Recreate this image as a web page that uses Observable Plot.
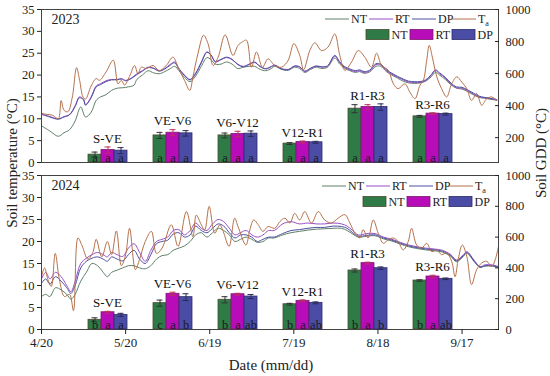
<!DOCTYPE html>
<html><head><meta charset="utf-8">
<script src="https://cdn.jsdelivr.net/npm/d3@7"></script>
<script src="https://cdn.jsdelivr.net/npm/@observablehq/plot@0.6"></script>
<style>
body{margin:0;background:#fff;}
#chart{position:relative;width:550px;height:376px;font-family:"Liberation Serif","Times New Roman",Times,"DejaVu Serif","Noto Serif",serif;color:#222;overflow:hidden;}
#chart svg, #chart svg text{font-family:"Liberation Serif","Times New Roman",Times,"DejaVu Serif","Noto Serif",serif !important;}
.ttl{position:absolute;white-space:nowrap;font-size:15px;}
</style></head><body><div id="chart"></div>
<script>
// ---- axis ticks / categories ----
const tickDays = [0, 30, 60, 90, 120, 150];
const tickLabels = ["4/20", "5/20", "6/19", "7/19", "8/18", "9/17"];
const tempTicks = [0, 5, 10, 15, 20, 25, 30, 35];
const gddTicksTop = [200, 400, 600, 800, 1000];
const gddTicksBottom = [0, 200, 400, 600, 800, 1000];
const stages = ["S-VE", "VE-V6", "V6-V12", "V12-R1", "R1-R3", "R3-R6"];
const treatments = ["NT", "RT", "DP"];

// ---- 2023 daily temperature (day offset from 4/20, °C) ----
const ta2023 = [[0,11.2],[2,11.0],[4,10.8],[6,10.0],[7,14.2],[8,12.0],[9.4,11.6],[11,15],[12.5,21.7],[13.6,18.8],[14.8,15],[15.7,14.5],[17.7,17.5],[19.5,19.2],[20.7,18.8],[23,20.7],[25.6,23.4],[27.3,18],[28.5,18.8],[29.6,17.7],[31.4,19.7],[33.2,22.2],[34.4,20.3],[35.6,21.8],[37.4,21.5],[39.8,22.2],[42,21],[44.5,22.2],[46.9,24.1],[48.7,21.8],[51,18.8],[52.9,16.5],[54,19.6],[55.8,24.9],[57.8,29.1],[59.4,27.2],[61.2,22.2],[63,24.1],[65.5,29.2],[68.3,24.5],[70.1,26.8],[71.7,27.6],[73.1,28],[74.9,21.8],[76.7,25.3],[78.8,21.8],[80.8,23.7],[83.2,22.2],[85.6,21.8],[88,23.4],[90,27.2],[92.1,24.5],[93.5,21.2],[95.7,25.6],[97.5,27.4],[99.9,25.6],[102.2,26.4],[104.6,29.4],[106.4,24.5],[108.2,21.1],[110.6,23],[113,25.6],[115.3,24.1],[117.7,21.8],[119.5,25],[121.3,22.2],[123.7,21.1],[125.5,18],[127.2,16.9],[129.6,18],[131.4,16.1],[133.2,14.6],[135,17.7],[136.2,18.8],[137.4,23.4],[138.3,26.8],[139.4,24.1],[141,19.6],[142.7,16.9],[144.5,15],[146.3,18],[148.1,19.6],[149.9,18.4],[151.7,16.9],[153.4,14.2],[155.2,15.8],[157,13.1],[158.8,14.6],[160.6,15],[162.4,14.2]];
const nt2023 = [[0,8.4],[3,7.2],[6,6.0],[8,6.8],[10,7.5],[12,9.5],[14,12.7],[15.7,10.4],[17.7,11.5],[19.5,14.2],[21,15],[23,15.5],[25,16.5],[27,17],[29,17.1],[31,17.3],[33,17.7],[34,19],[36,20],[38,21],[40,20.5],[42,20.3],[44,20.8],[46,21.5],[47.5,22],[49,21],[51,19.5],[53,18.5],[55,19.8],[57,22],[59,24],[60.5,23.5],[62,22.5],[64,22.5],[66,23],[68,22.5],[70,21.5],[72,21.8],[74,22],[76,22],[78,21.3],[80,21],[82,21.5],[83.2,22],[85.6,21.3],[88,21.1],[90.3,21.8],[92.1,21.5],[93.9,20.6],[96,21.3],[98,21.8],[100,21.5],[102,21.8],[104.6,23.9],[106.4,22.5],[108.2,21.5],[110,21],[112,20.6],[113.5,20.8],[115,20.4],[117,20.7],[119.3,22],[121,22],[123,20.8],[125,20],[127,19.3],[129,18.6],[131,18.2],[133,18.1],[135,18.2],[137,18.6],[139,19.6],[140.5,20.6],[142,20],[144,19],[146,17.8],[148,17],[150,16.8],[152,16.2],[154,15.5],[156,14.9],[158,14.7],[160,14.5],[162.4,14.2]];
const rt2023 = [[0,11.2],[3,10.5],[6,10],[8,10.5],[10,11],[12,13],[13.5,15],[15,14.5],[15.7,13.2],[17.7,15],[19.5,17.5],[21,18],[23,18.7],[25,19],[27,19],[28.5,19.2],[30,18.8],[32,19.3],[34,20.3],[36,21],[38,21.8],[40,21.6],[42,21],[44,21.5],[46,22.5],[47.5,23],[49,21.5],[51,20],[53,19],[55,20.5],[57,23],[59,25.3],[60.5,24.5],[62,23],[64,23.5],[66,24],[68,23.5],[70,22.5],[72,22],[74,22.5],[76,23],[78,22],[80,21.5],[82,22],[83.2,22.3],[85.6,21.5],[88,21.3],[90.3,22],[92.1,21.8],[93.9,20.8],[96,21.5],[98,22],[100,21.8],[102,22],[104.6,24.3],[106.4,22.8],[108.2,21.7],[110,21.2],[112,20.8],[113.5,21],[115,20.6],[117,20.9],[119.3,22.4],[121,22.3],[123,21],[125,20.2],[127,19.5],[129,18.9],[131,18.4],[133,18.3],[135,18.3],[137,18.7],[139,19.9],[140.5,21],[142,20.3],[144,19.3],[146,18],[148,17.1],[150,17],[152,16.4],[154,15.7],[156,15],[158,14.8],[160,14.6],[162.4,14.3]];
const dp2023 = [[0,11],[3,10.4],[6,9.9],[8,10.4],[10,10.9],[12,12.8],[13.5,14.8],[15,14.3],[15.7,13.1],[17.7,14.8],[19.5,17.3],[21,17.8],[23,18.5],[25,18.9],[27,18.9],[28.5,19.1],[30,18.7],[32,19.2],[34,20.1],[36,20.9],[38,21.7],[40,21.5],[42,20.9],[44,21.4],[46,22.3],[47.5,22.8],[49,21.4],[51,19.9],[53,18.9],[55,20.3],[57,22.8],[59,25.2],[60.5,24.6],[62,23.1],[64,23.6],[66,24.1],[68,23.6],[70,22.4],[72,21.9],[74,22.4],[76,22.9],[78,21.9],[80,21.4],[82,21.9],[83.2,22.2],[85.6,21.4],[88,21.2],[90.3,22.1],[92.1,21.9],[93.9,20.9],[96,21.6],[98,22.1],[100,21.9],[102,22.1],[104.6,24.5],[106.4,23],[108.2,21.9],[110,21.4],[112,21],[113.5,21.2],[115,20.8],[117,21.1],[119.3,22.6],[121,22.5],[123,21.2],[125,20.4],[127,19.7],[129,19.1],[131,18.6],[133,18.5],[135,18.5],[137,18.9],[139,20.1],[140.5,21.2],[142,20.5],[144,19.5],[146,18.2],[148,17.3],[150,17.2],[152,16.6],[154,15.9],[156,15.2],[158,14.9],[160,14.7],[162.4,14.4]];

// ---- 2024 daily temperature ----
const ta2024 = [[0,12],[1.1,14],[2.3,11.3],[3.5,9.8],[4.9,17.3],[6.4,11.3],[8.2,7.5],[10,8],[11.4,4.3],[13,20.8],[14.5,19],[16.5,16],[18.3,17.5],[19.5,20.5],[21.5,16.5],[23.5,20],[25,17],[26.7,22.4],[28.5,14.5],[30,17],[31.4,23],[33.5,13.6],[35,16],[37,20],[39.2,22.3],[41,17.3],[43,18.5],[46.3,23.8],[48.7,18.9],[51.7,26.8],[54,21.1],[55.2,26],[57,23.8],[58.2,22.6],[59.8,28],[61.8,21.9],[63.6,23.8],[64.8,22.3],[66.9,18.9],[68.9,25.3],[70.1,23.4],[72.9,19.2],[74.3,22.6],[75.7,24.9],[77.3,23.8],[79,22.3],[80.8,23.4],[83.2,23],[85,24.5],[86.8,25.3],[88.6,24.2],[90.3,26.4],[92.1,24.9],[93.9,26.8],[96.3,24.2],[98.7,26.8],[101,24.9],[103.4,24.2],[105.8,25.3],[108.2,26.1],[110,24.2],[111.8,21.9],[113.6,20.8],[114.7,22.7],[116.5,20.8],[118.3,24.9],[120.1,21.9],[121.9,19.6],[123.7,20.4],[125.5,20.8],[127.2,20],[129,18.1],[130.8,20],[132,23],[133.8,19.2],[135.6,18.5],[137.4,19.6],[139.2,17.7],[141,18.1],[142.7,17],[144.5,17.4],[146.3,15.5],[147.5,12],[148.7,16.2],[150.1,19.2],[151.7,16.6],[153.4,10.2],[155.2,13.6],[157,15.1],[158.8,15.5],[160.6,14.3],[161.8,15.8],[163,18.9]];
const nt2024 = [[0,7.5],[1.5,8],[3,7.5],[5,9.5],[7,9],[9,8],[10.5,6.9],[12,8],[14,11],[16,13],[18,15],[20,14.5],[22,13],[23.5,12],[25,13],[27,13.5],[29,14],[31,14.5],[33,14.5],[35,14],[37,13.8],[39,14.5],[41,16],[43,16.8],[45,17],[47,18],[49,18.5],[51,19],[53,20],[55,21.5],[57,22],[59,21],[61,22],[63,23],[65,22.5],[67,21.5],[69,20],[71,20.5],[73,21],[75,20.5],[77,19.8],[79,20],[81,20.8],[83,20.8],[86,21.5],[89,22],[92,22.3],[95,22.6],[98,22.8],[101,22.9],[104,23],[107,23],[109,22.5],[111,21.7],[113,21],[116,21.2],[119,21.3],[122,20.6],[125,20.1],[128,19.4],[131,18.8],[134,18.4],[137,18.1],[140,17.9],[143,17.6],[146,16.6],[148,15.4],[150.5,16.6],[151.7,17.3],[154.6,15.2],[156.4,14.1],[158.2,14.4],[160.6,14.4],[163,14.1]];
const rt2024 = [[0,11.5],[1.5,13],[3,11.5],[5,13],[7,12],[9,10],[10.5,8.6],[12,11],[14,15],[16,16.2],[18,17],[20,17.5],[22,17],[23.5,16.5],[25,17.5],[27,17],[29,16.6],[31,18.5],[33,19.5],[35,17.5],[37,15.5],[39,18],[41,20],[43,20.5],[45,21],[47,22.5],[49,22.7],[51,21.5],[53,22.5],[55,24.2],[57,23],[59,22.5],[61,24],[63,25],[65,24.5],[67,23],[69,21.5],[71,22],[73,22.5],[75,21.5],[77,21],[79,21.5],[81,22.5],[83,22.5],[86,24],[89,24.5],[92,24],[95,24.2],[98,24],[101,24],[104,24.2],[107,24],[109,23.5],[111,22.5],[113,21.5],[116,21.8],[119,21.8],[122,21],[125,20.5],[128,19.8],[131,19.2],[134,18.8],[137,18.5],[140,18.3],[143,18],[146,17],[148,15.8],[150.5,17],[151.7,17.7],[154.6,15.5],[156.4,14.3],[158.2,14.7],[160.6,14.7],[163,14.3]];
const dp2024 = [[0,10.5],[1.5,11.5],[3,10.3],[5,12],[7,11],[9,9.5],[10.5,8.2],[12,10],[14,14],[16,15.5],[18,16.2],[20,16.5],[22,16],[23.5,15.5],[25,16.5],[27,16],[29,15.6],[31,17],[33,18],[35,16],[37,15],[39,17],[41,19.5],[43,20],[45,20.3],[47,21.7],[49,22],[51,21],[53,21.5],[55,23.5],[57,22.5],[59,22],[61,23],[63,24],[65,23.5],[67,22],[69,20.8],[71,21.5],[73,21.5],[75,21],[77,20],[79,20.5],[81,21],[83,21],[86,21.8],[89,22.5],[92,22.7],[95,23],[98,23.2],[101,23.2],[104,23.5],[107,23.4],[109,23],[111,22],[113,21.2],[116,21.4],[119,21.5],[122,20.8],[125,20.3],[128,19.6],[131,19],[134,18.6],[137,18.3],[140,18.1],[143,17.8],[146,16.8],[148,15.6],[150.5,16.8],[151.7,17.5],[154.6,15.3],[156.4,14.2],[158.2,14.5],[160.6,14.5],[163,14.2]];

// ---- soil GDD by stage (°C), error, significance letters ----
const gdd2023NT = [94, 214, 214, 163, 381, 333];
const gdd2023RT = [123, 231, 223, 173, 391, 350];
const gdd2023DP = [119, 227, 225, 171, 391, 347];
const err2023NT = [16, 19, 15, 6, 25, 6];
const err2023RT = [19, 19, 17, 6, 15, 5];
const err2023DP = [19, 17, 17, 6, 20, 6];
const let2023NT = ["a", "a", "a", "a", "a", "a"];
const let2023RT = ["a", "a", "a", "a", "a", "a"];
const let2023DP = ["a", "a", "a", "a", "a", "a"];

const gdd2024NT = [63, 171, 193, 164, 383, 318];
const gdd2024RT = [112, 232, 229, 186, 431, 344];
const gdd2024DP = [95, 210, 214, 173, 398, 329];
const err2024NT = [13, 20, 20, 6, 10, 5];
const err2024RT = [6, 10, 6, 6, 6, 8];
const err2024DP = [10, 22, 13, 6, 8, 5];
const let2024NT = ["b", "c", "b", "b", "b", "b"];
const let2024RT = ["a", "a", "a", "a", "a", "a"];
const let2024DP = ["a", "b", "ab", "ab", "b", "ab"];

// ---- styles ----
const lineColors = {NT: "#5f8068", RT: "#9a4ec6", DP: "#4c509e", Ta: "#b4714c"};
const barFill = {NT: "#2e7b47", RT: "#b80cb8", DP: "#4a4ca6"};
const barStroke = {NT: "#4a4a30", RT: "#7a1a6a", DP: "#2c2c66"};
const errColor = {NT: "#333333", RT: "#c0305a", DP: "#2a2a55"};
const FONT = '"Liberation Serif","Times New Roman",Times,"DejaVu Serif","Noto Serif",serif';
const W = 550, ML = 41, MR = 52, MT = 9;
const chart = document.getElementById("chart");

function place(svg, top) {
  svg.style.position = "absolute";
  svg.style.left = "0px";
  svg.style.top = top + "px";
  chart.appendChild(svg);
}

function panel(p) {
  const start = Date.UTC(p.year, 3, 20);
  const toDate = d => new Date(start + d * 864e5);
  const common = {
    width: W, height: p.height, marginLeft: ML, marginRight: MR, marginTop: MT, marginBottom: p.mb,
    style: {background: "transparent", fontFamily: FONT, fontSize: "12.5px", color: "#222", overflow: "visible"}
  };
  // lines + left axis
  const lineMarks = p.series.map(([k, arr]) =>
    Plot.line(arr, {x: d => toDate(d[0]), y: d => d[1], stroke: lineColors[k], strokeWidth: 1, curve: "catmull-rom"}));
  const marks = [
    ...lineMarks,
    Plot.frame({stroke: "#444"}),
    Plot.axisY({ticks: tempTicks, tickSize: 4, tickPadding: 3, label: null, fontSize: 12.5}),
    Plot.text([p.year], {text: d => String(d), frameAnchor: "top-left", dx: 10, dy: 5, fontSize: 14})
  ];
  if (p.showX) marks.push(Plot.axisX({
    ticks: tickDays.map(toDate),
    tickFormat: d => tickLabels[tickDays.indexOf(Math.round((d - start) / 864e5))],
    tickSize: 5, tickPadding: 3, label: null, fontSize: 13
  }));
  const lines = Plot.plot({...common,
    x: {type: "utc", domain: [toDate(0), toDate(163)], axis: p.showX ? undefined : null},
    y: {domain: [0, 35]},
    marks});
  place(lines, p.top);

  // bars
  const rows = [];
  for (const t of treatments) p.gdd[t].v.forEach((v, i) =>
    rows.push({stage: stages[i], trt: t, v, e: p.gdd[t].e[i], letter: p.gdd[t].l[i]}));
  const tops = stages.map(s => ({stage: s, top: d3.max(rows.filter(r => r.stage === s), r => r.v + r.e)}));
  const lo = p.gddDomain[0];
  const barMarks = [];
  for (const t of treatments) {
    const sub = rows.filter(r => r.trt === t);
    barMarks.push(Plot.barY(sub, {fx: "stage", x: "trt", y1: lo, y2: "v", fill: barFill[t], stroke: barStroke[t], strokeWidth: 0.8}));
  }
  for (const t of treatments) {
    const sub = rows.filter(r => r.trt === t);
    barMarks.push(Plot.ruleX(sub, {fx: "stage", x: "trt", y1: d => d.v - d.e, y2: d => d.v + d.e, stroke: errColor[t], strokeWidth: 1}));
    barMarks.push(Plot.tickY(sub, {fx: "stage", x: "trt", y: d => d.v + d.e, stroke: errColor[t], insetLeft: 3.5, insetRight: 3.5}));
    barMarks.push(Plot.tickY(sub, {fx: "stage", x: "trt", y: d => d.v - d.e, stroke: errColor[t], insetLeft: 3.5, insetRight: 3.5}));
  }
  barMarks.push(Plot.text(rows, {fx: "stage", x: "trt", text: "letter", frameAnchor: "bottom", dy: -1, fontSize: 12.5, fill: "#1a1a1a"}));
  barMarks.push(Plot.text(tops, {fx: "stage", y: "top", text: "stage", dy: -8.5, fontSize: 13, fill: "#111"}));
  const bars = Plot.plot({...common,
    fx: {domain: stages, paddingInner: 0.39, paddingOuter: 0.69, axis: null, label: null},
    x: {domain: treatments, padding: 0, axis: null},
    y: {domain: p.gddDomain, axis: null},
    marks: barMarks});
  place(bars, p.top);

  // right GDD axis
  const ax = Plot.plot({...common,
    y: {domain: p.gddDomain},
    marks: [Plot.axisY({anchor: "right", ticks: p.gddTicks, tickFormat: d => String(d), tickSize: -4, tickPadding: 11, label: null, fontSize: 12.5})]});
  place(ax, p.top);
}

panel({year: 2023, top: 0, height: 166, mb: 4, showX: false,
  series: [["NT", nt2023], ["RT", rt2023], ["DP", dp2023], ["Ta", ta2023]],
  gdd: {NT: {v: gdd2023NT, e: err2023NT, l: let2023NT}, RT: {v: gdd2023RT, e: err2023RT, l: let2023RT}, DP: {v: gdd2023DP, e: err2023DP, l: let2023DP}},
  gddDomain: [45, 1000], gddTicks: gddTicksTop});
panel({year: 2024, top: 166, height: 210, mb: 47, showX: true,
  series: [["NT", nt2024], ["RT", rt2024], ["DP", dp2024], ["Ta", ta2024]],
  gdd: {NT: {v: gdd2024NT, e: err2024NT, l: let2024NT}, RT: {v: gdd2024RT, e: err2024RT, l: let2024RT}, DP: {v: gdd2024DP, e: err2024DP, l: let2024DP}},
  gddDomain: [0, 1000], gddTicks: gddTicksBottom});

// ---- legends ----
const lg = d3.create("svg").attr("width", 550).attr("height", 376)
  .style("position", "absolute").style("left", "0px").style("top", "0px")
  .style("font-family", FONT).style("font-size", "12px");
const lineKeys = ["NT", "RT", "DP", "Ta"];
const lineX = [325, 369, 412, 452];
const barX = [366, 410, 452];
function drawLegend(ox, oy) {
  const g = lg.append("g").attr("transform", `translate(${ox},${oy})`);
  lineKeys.forEach((k, i) => {
    g.append("line").attr("x1", lineX[i]).attr("x2", lineX[i] + 24).attr("y1", 19).attr("y2", 19)
      .attr("stroke", lineColors[k]).attr("stroke-width", 1);
    const t = g.append("text").attr("x", lineX[i] + 26).attr("y", 23).attr("fill", "#222");
    if (k === "Ta") { t.append("tspan").text("T"); t.append("tspan").attr("dy", 3).attr("font-size", 8).text("a"); }
    else t.text(k);
  });
  treatments.forEach((k, i) => {
    g.append("rect").attr("x", barX[i]).attr("y", 29.5).attr("width", 23).attr("height", 10)
      .attr("fill", barFill[k]).attr("stroke", barStroke[k]).attr("stroke-width", 0.8);
    g.append("text").attr("x", barX[i] + 25.5).attr("y", 38.5).attr("fill", "#222").text(k);
  });
}
drawLegend(0, 0);
drawLegend(-3, 167);
chart.appendChild(lg.node());

// ---- axis titles ----
function title(text, x, y, rot) {
  const d = document.createElement("div");
  d.className = "ttl";
  d.textContent = text;
  d.style.left = x + "px"; d.style.top = y + "px";
  d.style.transform = `translate(-50%,-50%)${rot ? " rotate(-90deg)" : ""}`;
  chart.appendChild(d);
}
title("Soil temperature (°C)", 12, 163, true);
title("Soil GDD (°C)", 541, 153, true);
title("Date (mm/dd)", 271, 365, false);
</script></body></html>
